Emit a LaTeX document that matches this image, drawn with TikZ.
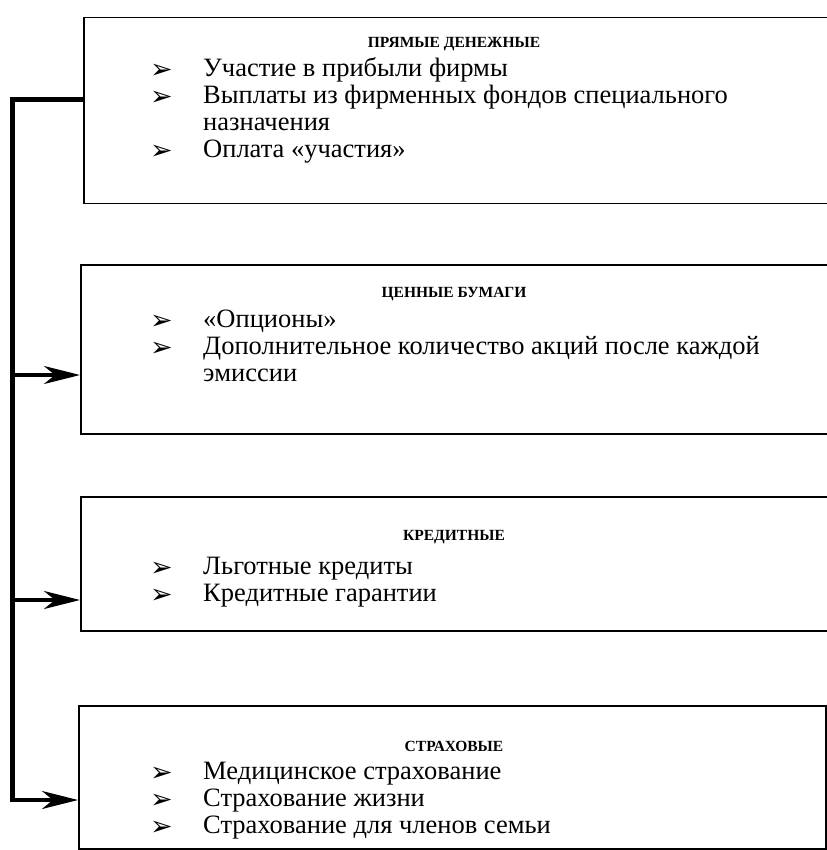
\documentclass[tikz,border=0pt]{standalone}
\usepackage{fontspec}
\setmainfont{Liberation Serif}
\newfontfamily\symfont{DejaVu Sans}
\usetikzlibrary{arrows.meta,positioning}
\newcommand{\pnt}{\smash{\raisebox{-2pt}{\symfont\fontsize{27}{27}\selectfont ➢}}}

\begin{document}
\begin{tikzpicture}[x=1pt,y=-1pt]
	\tikzstyle{vid} = [rectangle, draw=black, line width=1.5pt, minimum width=747pt, anchor=north west, inner sep=0pt]
	\tikzstyle{nazev} = [font=\fontsize{15.5}{19}\selectfont\bfseries, inner sep=0pt]
	\tikzstyle{seznam} = [font=\fontsize{26.5}{27}\selectfont, anchor=north west, inner sep=0pt]
	\tikzstyle{bus} = [line width=5pt]
	\tikzstyle{arrow} = [line width=3.5pt, -{Stealth[length=36pt,width=18pt,inset=11pt]}]

	\useasboundingbox (0,0) rectangle (826,850);

	% ramecky
	\node (b1) [vid, minimum height=186pt] at (83,17) {};
	\node (b2) [vid, minimum height=169pt] at (80,264) {};
	\node (b3) [vid, minimum height=134pt] at (80,496) {};
	\node (b4) [vid, minimum height=143pt] at (78,705) {};

	% nadpisy
	\node (t1) [nazev] at (454,44) {ПРЯМЫЕ ДЕНЕЖНЫЕ};
	\node (t2) [nazev] at (454,294) {ЦЕННЫЕ БУМАГИ};
	\node (t3) [nazev] at (454,537) {КРЕДИТНЫЕ};
	\node (t4) [nazev] at (454,746) {СТРАХОВЫЕ};

	% polozky
	\node (l1) [seznam] at (150,57) {\begin{tabular}{@{}p{53pt}@{}l@{}}
		\pnt & Участие в прибыли фирмы\\
		\pnt & Выплаты из фирменных фондов специального\\
		     & назначения\\
		\pnt & Оплата «участия»
	\end{tabular}};
	\node (l2) [seznam] at (150,308) {\begin{tabular}{@{}p{53pt}@{}l@{}}
		\pnt & «Опционы»\\
		\pnt & Дополнительное количество акций после каждой\\
		     & эмиссии
	\end{tabular}};
	\node (l3) [seznam] at (150,555) {\begin{tabular}{@{}p{53pt}@{}l@{}}
		\pnt & Льготные кредиты\\
		\pnt & Кредитные гарантии
	\end{tabular}};
	\node (l4) [seznam] at (150,760) {\begin{tabular}{@{}p{53pt}@{}l@{}}
		\pnt & Медицинское страхование\\
		\pnt & Страхование жизни\\
		\pnt & Страхование для членов семьи
	\end{tabular}};

	% sbernice vlevo
	\coordinate (h) at (12,100);
	\coordinate (d) at (12,800);
	\draw [bus] (b1.west |- h) -- (h) -- (d);
	\draw [arrow] (h |- 0,375) -- (b2.west |- 0,375);
	\draw [arrow] (h |- 0,600) -- (b3.west |- 0,600);
	\draw [arrow, line cap=rect] (d) -- (b4.west |- d);
\end{tikzpicture}
\end{document}
